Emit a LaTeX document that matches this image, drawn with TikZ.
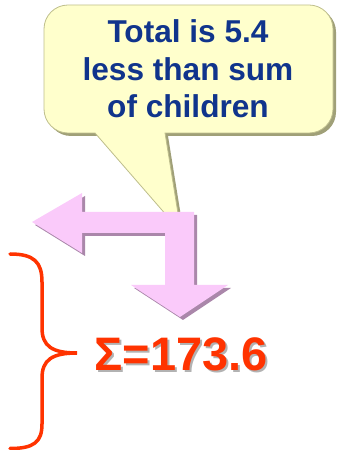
\documentclass[tikz,border=0pt]{standalone}
\usepackage{fontspec}
\setmainfont{Liberation Sans}
\usepackage{tikz}
\usetikzlibrary{positioning}
\definecolor{noteyellow}{RGB}{255,255,204}
\definecolor{noteshade}{RGB}{160,160,120}
\definecolor{noteedge}{RGB}{190,190,140}
\definecolor{noteblue}{RGB}{16,52,140}
\definecolor{arrowpink}{RGB}{250,202,250}
\definecolor{arrowshade}{RGB}{170,135,170}
\definecolor{sumred}{RGB}{255,51,0}

\begin{document}
\begin{tikzpicture}[x=1pt, y=1pt,
    note/.style={fill=noteyellow, draw=noteedge, line width=0.8pt},
    noteshadow/.style={fill=noteshade},
    bentarrow/.style={fill=arrowpink},
    bentshadow/.style={fill=arrowshade},
    sumbrace/.style={draw=sumred, line width=3.5pt, line cap=round},
    notetext/.style={font=\fontsize{31.6}{37.5}\selectfont\bfseries, text=noteblue, align=center},
    sumtext/.style={font=\fontsize{47}{52}\selectfont\bfseries, inner sep=0pt}
]
\useasboundingbox (0,0) rectangle (339,450);

% callout with its tail
\def\notepath{(44,341) -- (44,421) arc[start angle=180, end angle=90, radius=24]
  -- (309,445) arc[start angle=90, end angle=0, radius=24]
  -- (333,341) arc[start angle=0, end angle=-90, radius=24]
  -- (165,317) -- (181,218) -- (95,317)
  -- (68,317) arc[start angle=270, end angle=180, radius=24] -- cycle}
\fill[noteshadow, shift={(3,-3)}] \notepath;
\path[note] \notepath;
\node[notetext, anchor=base] (note) at (188,332) {Total is 5.4\\less than sum\\of children};

% bent arrow
\def\bendpath{(32,228) -- (82,257) -- (82,238) -- (194,238) -- (194,165)
  -- (228,165) -- (180,133) -- (131,165) -- (165,165) -- (165,217)
  -- (82,217) -- (82,197) -- cycle}
\fill[bentshadow, shift={(3,-3)}] \bendpath;
\fill[bentarrow] \bendpath;

% brace
\draw[sumbrace] (10,196) .. controls (34,196) and (42,188) .. (42,168)
  -- (42,122) .. controls (42,104) and (52,97) .. (77,97)
  .. controls (52,97) and (42,90) .. (42,72)
  -- (42,26) .. controls (42,8) and (34,1.5) .. (10,1.5);

% sum
\node[sumtext, text=black!30, anchor=base] (sumshadow) at (183,77) {Σ=173.6};
\node[sumtext, text=sumred, anchor=base] (sum) at (181,79) {Σ=173.6};
\end{tikzpicture}
\end{document}
